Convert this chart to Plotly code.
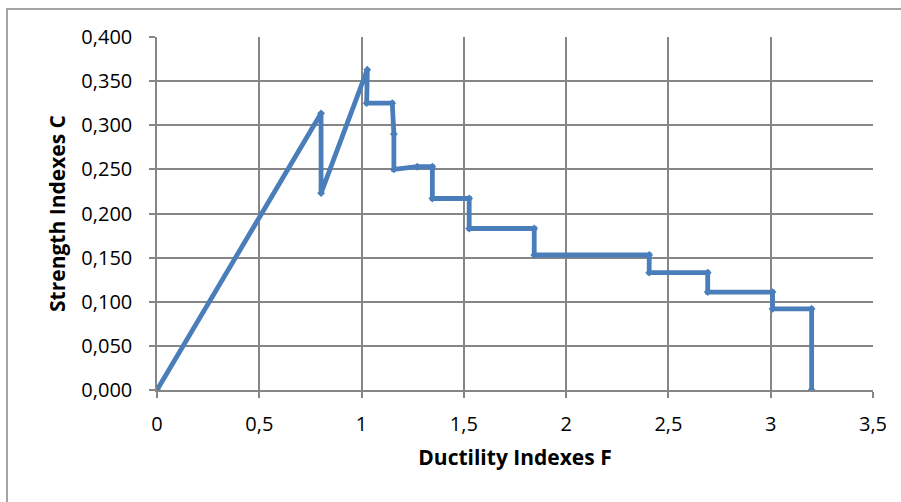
import plotly.graph_objects as go

# Data
ductility_F = [0, 0.802, 0.802, 1.028, 1.025, 1.150, 1.158, 1.158, 1.272, 1.346, 1.346,
               1.526, 1.526, 1.844, 1.844, 2.406, 2.406, 2.692, 2.692, 3.009, 3.009,
               3.200, 3.200]
strength_C = [0, 0.3135, 0.223, 0.363, 0.325, 0.325, 0.290, 0.250, 0.253, 0.253, 0.217,
              0.217, 0.183, 0.183, 0.153, 0.153, 0.133, 0.133, 0.111, 0.111, 0.092,
              0.092, 0]

x_ticks = [0, 0.5, 1, 1.5, 2, 2.5, 3, 3.5]
y_ticks = [0, 0.05, 0.1, 0.15, 0.2, 0.25, 0.3, 0.35, 0.4]

x_title = "Ductility Indexes F"
y_title = "Strength Indexes C"

blue = "#4a7ebb"
grid = "#868686"
font_family = "Open Sans, Lato, sans-serif"

fig = go.Figure()
fig.add_trace(go.Scatter(
    x=ductility_F, y=strength_C, mode="lines+markers",
    line=dict(color=blue, width=4.8),
    marker=dict(symbol="diamond", size=6, color=blue),
    showlegend=False, hoverinfo="x+y",
))

fig.update_layout(
    width=901, height=502,
    margin=dict(l=157, r=28, t=37, b=112),
    paper_bgcolor="white", plot_bgcolor="white",
    separators=",.",
    font=dict(family=font_family, size=18, color="#000000"),
    shapes=[dict(type="rect", xref="paper", yref="paper",
                 x0=-0.2095, y0=-0.5, x1=1.2, y1=1.0793,
                 line=dict(color=grid, width=1.5), layer="below")],
)

fig.update_xaxes(
    range=[0, 3.5], tickvals=x_ticks,
    ticktext=[str(v).replace(".", ",") for v in x_ticks],
    showgrid=True, gridcolor=grid, gridwidth=1.5,
    showline=True, linecolor=grid, linewidth=1.5,
    ticks="outside", ticklen=6, tickcolor=grid, tickwidth=1.5,
    zeroline=False, mirror=False,
    tickfont=dict(size=20), ticklabelstandoff=9,
    title=dict(text="<b>" + x_title + "</b>", font=dict(size=21), standoff=15),
)
fig.update_yaxes(
    range=[0, 0.4], tickvals=y_ticks, tickformat=".3f",
    showgrid=True, gridcolor=grid, gridwidth=1.5,
    showline=True, linecolor=grid, linewidth=1.5,
    ticks="outside", ticklen=6, tickcolor=grid, tickwidth=1.5,
    zeroline=False,
    tickfont=dict(size=20), ticklabelstandoff=13,
    title=dict(text="<b>" + y_title + "</b>", font=dict(size=21), standoff=10),
)

fig.write_html("out.html", config={"displayModeBar": False},
               post_script="document.body.style.margin='0';document.body.style.padding='0';")
